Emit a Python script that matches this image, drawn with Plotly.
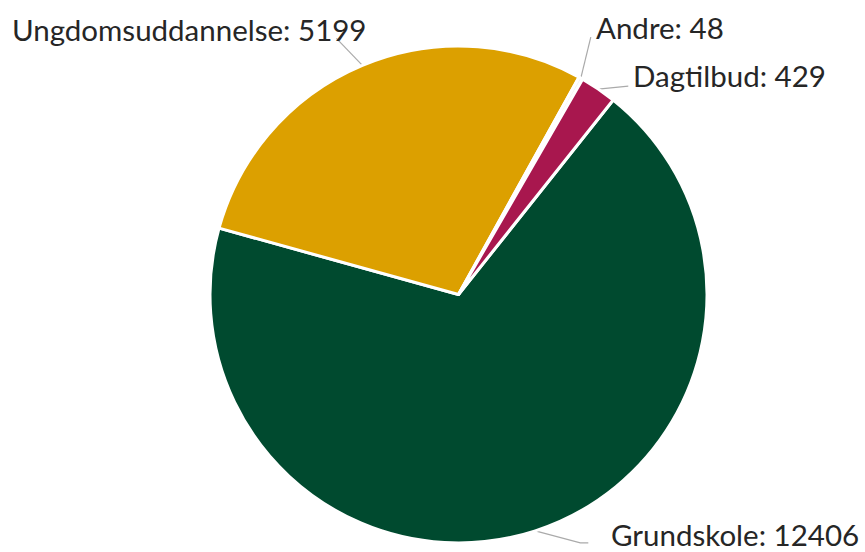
import math
import plotly.graph_objects as go

# ---- data ----
labels = ["Grundskole", "Ungdomsuddannelse", "Andre", "Dagtilbud"]
values = [12406, 5199, 48, 429]
colors = ["#004a2f", "#dca000", "#f4f4f4", "#a8174e"]

# ---- layout / style ----
W, H = 865, 552
CX, CY, R = 458.5, 294.5, 248.5
ROTATION = 38.5
FONT = "Lato"
FONT_SIZE = 29.5
TEXT_COLOR = "#262626"
LINE_COLOR = "#aaaaaa"

# per-label connector / text placement (pixel offsets, styling of labels)
label_style = {
    "Grundskole":        dict(elbow=(45, 12), tail=8,  text=(22, -8),  anchor="left"),
    "Ungdomsuddannelse": dict(elbow=(-26, -27), tail=0, text=(31, -9), anchor="right"),
    "Andre":             dict(elbow=(10, -41), tail=0, text=(4, -10), anchor="left"),
    "Dagtilbud":         dict(elbow=(30, -3), tail=0,  text=(4, -11), anchor="left"),
}

fig = go.Figure()

fig.add_trace(go.Pie(
    labels=labels,
    values=values,
    sort=False,
    direction="clockwise",
    rotation=ROTATION,
    marker=dict(colors=colors, line=dict(color="#ffffff", width=3)),
    textinfo="none",
    hoverinfo="label+value",
    domain=dict(x=[(CX - R) / W, (CX + R) / W],
                y=[1 - (CY + R) / H, 1 - (CY - R) / H]),
    showlegend=False,
))

total = sum(values)
cum = 0.0
annotations = []
for lab, val in zip(labels, values):
    a0 = ROTATION + 360 * cum / total
    a1 = ROTATION + 360 * (cum + val) / total
    cum += val
    mid = math.radians((a0 + a1) / 2)
    ex = CX + R * math.sin(mid)
    ey = CY - R * math.cos(mid)
    st = label_style[lab]
    bx, by = ex + st["elbow"][0], ey + st["elbow"][1]
    tx = bx + (st["tail"] if st["anchor"] == "left" else -st["tail"])
    fig.add_trace(go.Scatter(
        x=[ex, bx, tx], y=[ey, by, by], mode="lines",
        line=dict(color=LINE_COLOR, width=1.2),
        hoverinfo="skip", showlegend=False,
    ))
    annotations.append(dict(
        x=tx + st["text"][0], y=by + st["text"][1], xref="x", yref="y",
        text=f"{lab}: {val}", showarrow=False,
        xanchor=st["anchor"], yanchor="middle", borderpad=0,
        font=dict(family=FONT, size=FONT_SIZE, color=TEXT_COLOR),
    ))

fig.update_layout(
    width=W, height=H,
    margin=dict(l=0, r=0, t=0, b=0),
    paper_bgcolor="#ffffff", plot_bgcolor="#ffffff",
    xaxis=dict(range=[0, W], visible=False, fixedrange=True, domain=[0, 1]),
    yaxis=dict(range=[H, 0], visible=False, fixedrange=True, domain=[0, 1]),
    annotations=annotations,
    showlegend=False,
)

fig.write_html("out.html",
               config={"displayModeBar": False},
               post_script="document.body.style.margin='0px';document.body.style.overflow='hidden';")
